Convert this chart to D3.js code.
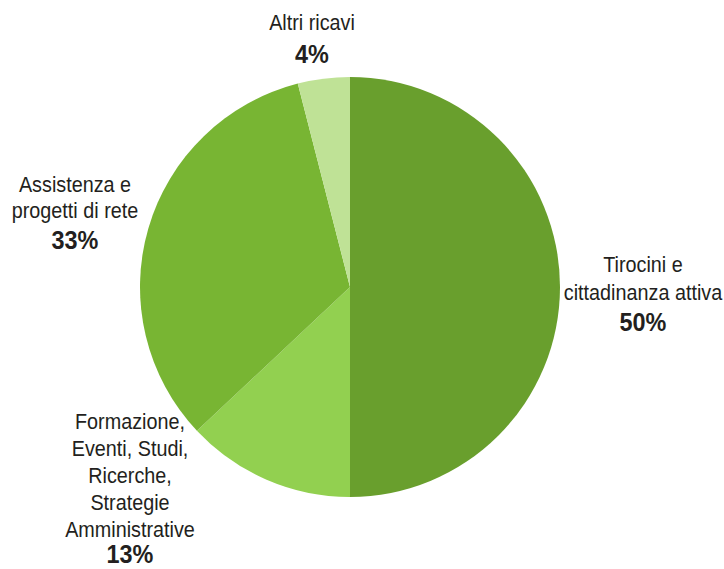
<!DOCTYPE html>
<html><head><meta charset="utf-8">
<script src="https://cdn.jsdelivr.net/npm/d3@7"></script>
<style>
html,body{margin:0;padding:0;background:#fff;}
text{font-family:"Liberation Sans",Arial,sans-serif;fill:#231f20;}
</style></head><body>
<svg id="chart" width="724" height="569"></svg>
<script>
const categories = ["Tirocini e cittadinanza attiva","Formazione, Eventi, Studi, Ricerche, Strategie Amministrative","Assistenza e progetti di rete","Altri ricavi"];
const values = [50, 13, 33, 4];
const colors = ["#699f2d", "#92d050", "#78b533", "#bfe296"];
const labelLines = [
  ["Tirocini e","cittadinanza attiva"],
  ["Formazione,","Eventi, Studi,","Ricerche,","Strategie","Amministrative"],
  ["Assistenza e","progetti di rete"],
  ["Altri ricavi"]
];
const percentLabels = ["50%","13%","33%","4%"];
// label anchor positions (x center, first baseline)
const labelPos = [[643,272],[130,429],[75,192],[312,30]];

const svg = d3.select("#chart");
const cx = 350, cy = 287, r = 210;
const data = categories.map((c,i)=>({c, v:values[i], i}));
const pie = d3.pie().value(d=>d.v).sort(null);
const arc = d3.arc().innerRadius(0).outerRadius(r);
const g = svg.append("g").attr("transform",`translate(${cx},${cy})`);
g.selectAll("path").data(pie(data)).join("path")
  .attr("d",arc).attr("fill",d=>colors[d.data.i]);

const lineH = [28, 27, 26, 0];
const pctGap = [31, 26, 31, 33];
const narrow = 0.9;
data.forEach((d,i)=>{
  const [x,y] = labelPos[i];
  const lg = svg.append("g").attr("transform",`translate(${x},0) scale(${narrow},1)`);
  const t = lg.append("text").attr("text-anchor","middle").style("font-size","22px");
  labelLines[i].forEach((l,k)=>{
    t.append("tspan").attr("x",0).attr("y",y + k*lineH[i]).text(l);
  });
  const n = labelLines[i].length;
  lg.append("text").attr("text-anchor","middle")
    .attr("x",0).attr("y",y + (n-1)*lineH[i] + pctGap[i])
    .style("font-size","26px").style("font-weight","bold")
    .text(percentLabels[i]);
});
</script>
</body></html>
